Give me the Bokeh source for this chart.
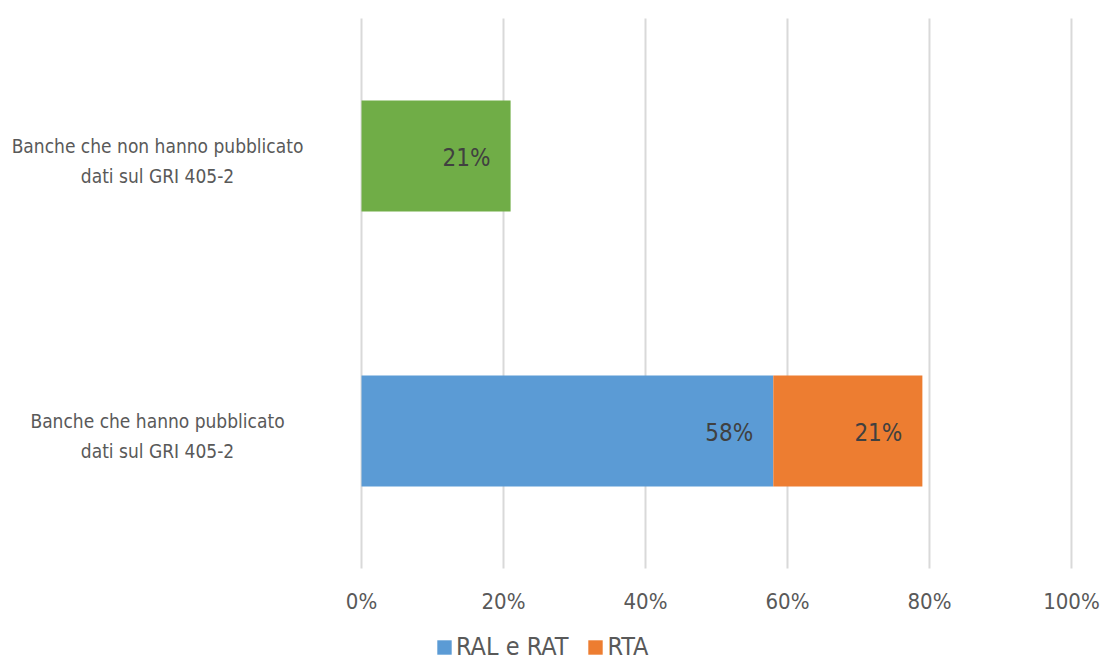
from bokeh.plotting import figure
from bokeh.models import Range1d, ColumnDataSource, Legend, LegendItem
from bokeh.embed import file_html
from bokeh.resources import INLINE
from bokeh.core.properties import value

categories = ["Banche che hanno pubblicato\ndati sul GRI 405-2",
              "Banche che non hanno pubblicato\ndati sul GRI 405-2"]
ral_rat = [58, 0]
rta = [21, 0]
non_pub = [0, 21]
tick_values = [0, 20, 40, 60, 80, 100]
tick_labels = ["0%", "20%", "40%", "60%", "80%", "100%"]

C_BLUE = "#5b9bd5"
C_ORANGE = "#ed7d31"
C_GREEN = "#70ad47"
TXT = "#595959"
FONT = "DejaVu Sans Condensed"

# category slots at index + 0.5 on a numeric y scale
ypos = [i + 0.5 for i in range(len(categories))]

p = figure(width=1101, height=664, x_range=Range1d(-50.85, 104.23), y_range=Range1d(-0.349, 2.0655),
           output_backend="svg", toolbar_location=None,
           min_border_left=0, min_border_right=0, min_border_top=0, min_border_bottom=0)
p.outline_line_color = None
p.background_fill_color = "white"
p.border_fill_color = "white"
p.xaxis.visible = False
p.yaxis.visible = False
p.xgrid.visible = False
p.ygrid.visible = False

# vertical gridlines spanning the category bands
p.segment(x0=tick_values, y0=[0] * len(tick_values), x1=tick_values,
          y1=[len(categories)] * len(tick_values), line_color="#d9d9d9", line_width=2)

src = ColumnDataSource(dict(y=ypos, ral=ral_rat, nonpub=non_pub,
                            rta_start=list(ral_rat),
                            rta_end=[a + b for a, b in zip(ral_rat, rta)]))

h = 0.404
r1 = p.hbar(y="y", left=0, right="ral", height=h, source=src, color=C_BLUE, line_color=None)
r2 = p.hbar(y="y", left="rta_start", right="rta_end", height=h, source=src, color=C_ORANGE, line_color=None)
r3 = p.hbar(y="y", left=0, right="nonpub", height=h, source=src, color=C_GREEN, line_color=None)

# data labels (inside end)
lab_x, lab_y, lab_t = [], [], []
for yy, a, b, g in zip(ypos, ral_rat, rta, non_pub):
    if a:
        lab_x.append(a); lab_y.append(yy); lab_t.append(f"{a}%")
    if b:
        lab_x.append(a + b); lab_y.append(yy); lab_t.append(f"{b}%")
    if g:
        lab_x.append(g); lab_y.append(yy); lab_t.append(f"{g}%")
lsrc = ColumnDataSource(dict(x=lab_x, y=lab_y, t=lab_t))
p.text(x="x", y="y", text="t", source=lsrc, x_offset=-20, y_offset=2,
       text_align="right", text_baseline="middle", text_font_size="24px",
       text_color="#404040", text_font=value(FONT))

# category labels (centered, two lines)
csrc = ColumnDataSource(dict(x=[0] * len(categories), y=ypos, t=categories))
p.text(x="x", y="y", text="t", source=csrc, x_offset=-204, y_offset=5,
       text_align="center", text_baseline="middle", text_font_size="19px",
       text_line_height=1.33, text_color=TXT, text_font=value(FONT))

# x tick labels
tsrc = ColumnDataSource(dict(x=tick_values, y=[0] * len(tick_values), t=tick_labels))
p.text(x="x", y="y", text="t", source=tsrc, y_offset=33,
       text_align="center", text_baseline="middle", text_font_size="22px",
       text_color=TXT, text_font=value(FONT))

legend = Legend(items=[LegendItem(label="RAL e RAT", renderers=[r1]),
                       LegendItem(label="RTA", renderers=[r2])],
                orientation="horizontal", location=(435, 3),
                label_text_font=FONT, label_text_font_size="25px", label_text_color=TXT,
                label_text_baseline="middle",
                glyph_width=18, glyph_height=18, label_height=18, label_width=10,
                spacing=18, label_standoff=3,
                background_fill_alpha=0, border_line_color=None, padding=0, margin=0)
p.add_layout(legend, "center")

open("out.html", "w").write(file_html(p, INLINE))
